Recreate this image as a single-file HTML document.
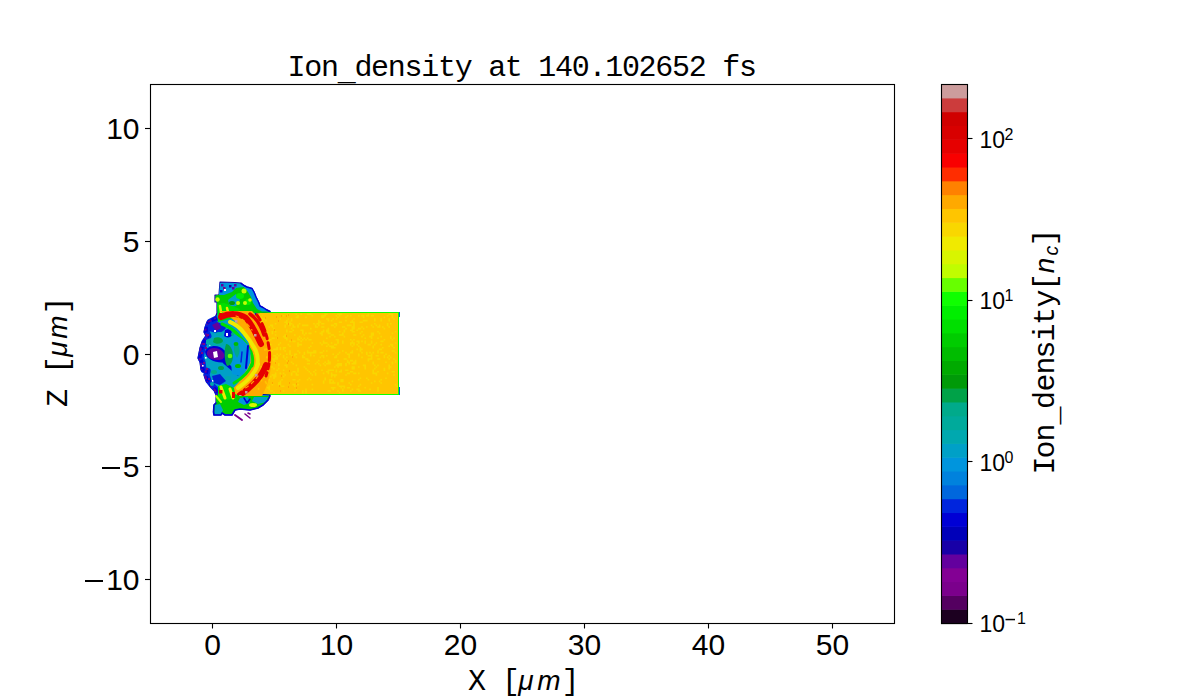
<!DOCTYPE html>
<html><head><meta charset="utf-8"><style>
html,body{margin:0;padding:0;background:#fff;width:1200px;height:700px;overflow:hidden}
svg{position:absolute;left:0;top:0}
</style></head><body>
<svg width="1200" height="700" viewBox="0 0 1200 700">
<rect x="0" y="0" width="1200" height="700" fill="#fff"/>
<g id="data">
<rect x="240" y="313" width="158" height="81" fill="#ffc500"/>
<path d="M310.0,372.6h1.6v1.6h-1.6zM311.6,374.2h1.6v1.6h-1.6zM385.2,361.4h1.6v1.6h-1.6zM274.8,374.2h1.6v1.6h-1.6zM273.2,375.8h1.6v1.6h-1.6zM314.8,369.4h1.6v1.6h-1.6zM313.2,371.0h1.6v1.6h-1.6zM372.4,369.4h1.6v1.6h-1.6zM372.4,371.0h1.6v1.6h-1.6zM308.4,377.4h1.6v1.6h-1.6zM306.8,379.0h1.6v1.6h-1.6zM263.6,380.6h1.6v1.6h-1.6zM294.0,390.2h1.6v1.6h-1.6zM270.0,343.8h1.6v1.6h-1.6zM316.4,361.4h1.6v1.6h-1.6zM314.8,363.0h1.6v1.6h-1.6zM348.4,353.4h1.6v1.6h-1.6zM378.8,358.2h1.6v1.6h-1.6zM289.2,350.2h1.6v1.6h-1.6zM289.2,351.8h1.6v1.6h-1.6zM362.8,334.2h1.6v1.6h-1.6zM361.2,335.8h1.6v1.6h-1.6zM390.0,343.8h1.6v1.6h-1.6zM388.4,345.4h1.6v1.6h-1.6zM378.8,348.6h1.6v1.6h-1.6zM377.2,350.2h1.6v1.6h-1.6zM380.4,335.8h1.6v1.6h-1.6zM266.8,340.6h1.6v1.6h-1.6zM294.0,383.8h1.6v1.6h-1.6zM372.4,371.0h1.6v1.6h-1.6zM372.4,372.6h1.6v1.6h-1.6zM391.6,371.0h1.6v1.6h-1.6zM393.2,371.0h1.6v1.6h-1.6zM274.8,361.4h1.6v1.6h-1.6zM359.6,321.4h1.6v1.6h-1.6zM361.2,321.4h1.6v1.6h-1.6zM345.2,327.8h1.6v1.6h-1.6zM343.6,329.4h1.6v1.6h-1.6zM346.8,324.6h1.6v1.6h-1.6zM348.4,324.6h1.6v1.6h-1.6zM338.8,385.4h1.6v1.6h-1.6zM340.4,387.0h1.6v1.6h-1.6zM364.4,337.4h1.6v1.6h-1.6zM324.4,313.4h1.6v1.6h-1.6zM326.0,313.4h1.6v1.6h-1.6zM302.0,355.0h1.6v1.6h-1.6zM303.6,356.6h1.6v1.6h-1.6zM292.4,383.8h1.6v1.6h-1.6zM294.0,385.4h1.6v1.6h-1.6zM326.0,350.2h1.6v1.6h-1.6zM338.8,351.8h1.6v1.6h-1.6zM337.2,353.4h1.6v1.6h-1.6zM393.2,374.2h1.6v1.6h-1.6zM282.8,375.8h1.6v1.6h-1.6zM364.4,340.6h1.6v1.6h-1.6zM364.4,342.2h1.6v1.6h-1.6zM322.8,356.6h1.6v1.6h-1.6zM367.6,343.8h1.6v1.6h-1.6zM369.2,343.8h1.6v1.6h-1.6zM346.8,372.6h1.6v1.6h-1.6zM345.2,374.2h1.6v1.6h-1.6zM386.8,372.6h1.6v1.6h-1.6zM273.2,377.4h1.6v1.6h-1.6zM356.4,348.6h1.6v1.6h-1.6zM334.0,374.2h1.6v1.6h-1.6zM361.2,315.0h1.6v1.6h-1.6zM362.8,315.0h1.6v1.6h-1.6zM337.2,339.0h1.6v1.6h-1.6zM322.8,372.6h1.6v1.6h-1.6zM297.2,350.2h1.6v1.6h-1.6zM298.8,351.8h1.6v1.6h-1.6zM383.6,339.0h1.6v1.6h-1.6zM382.0,340.6h1.6v1.6h-1.6zM282.8,315.0h1.6v1.6h-1.6zM287.6,343.8h1.6v1.6h-1.6zM289.2,345.4h1.6v1.6h-1.6zM310.0,345.4h1.6v1.6h-1.6zM308.4,347.0h1.6v1.6h-1.6zM394.8,383.8h1.6v1.6h-1.6zM396.4,385.4h1.6v1.6h-1.6zM329.2,382.2h1.6v1.6h-1.6zM351.6,329.4h1.6v1.6h-1.6zM351.6,331.0h1.6v1.6h-1.6zM377.2,358.2h1.6v1.6h-1.6zM378.8,358.2h1.6v1.6h-1.6zM268.4,366.2h1.6v1.6h-1.6zM326.0,371.0h1.6v1.6h-1.6zM327.6,372.6h1.6v1.6h-1.6zM330.8,379.0h1.6v1.6h-1.6zM332.4,380.6h1.6v1.6h-1.6zM382.0,326.2h1.6v1.6h-1.6zM383.6,327.8h1.6v1.6h-1.6zM356.4,348.6h1.6v1.6h-1.6zM321.2,355.0h1.6v1.6h-1.6zM322.8,355.0h1.6v1.6h-1.6zM345.2,327.8h1.6v1.6h-1.6zM343.6,329.4h1.6v1.6h-1.6zM388.4,364.6h1.6v1.6h-1.6zM388.4,366.2h1.6v1.6h-1.6zM268.4,388.6h1.6v1.6h-1.6zM270.0,390.2h1.6v1.6h-1.6zM372.4,347.0h1.6v1.6h-1.6zM274.8,372.6h1.6v1.6h-1.6zM286.0,337.4h1.6v1.6h-1.6zM286.0,339.0h1.6v1.6h-1.6zM350.0,371.0h1.6v1.6h-1.6zM348.4,372.6h1.6v1.6h-1.6zM286.0,329.4h1.6v1.6h-1.6zM286.0,331.0h1.6v1.6h-1.6zM265.2,366.2h1.6v1.6h-1.6zM266.8,366.2h1.6v1.6h-1.6zM386.8,324.6h1.6v1.6h-1.6zM388.4,326.2h1.6v1.6h-1.6zM372.4,361.4h1.6v1.6h-1.6zM273.2,348.6h1.6v1.6h-1.6zM274.8,348.6h1.6v1.6h-1.6zM370.8,324.6h1.6v1.6h-1.6zM372.4,326.2h1.6v1.6h-1.6zM287.6,313.4h1.6v1.6h-1.6zM286.0,315.0h1.6v1.6h-1.6zM271.6,390.2h1.6v1.6h-1.6zM273.2,391.8h1.6v1.6h-1.6zM388.4,366.2h1.6v1.6h-1.6zM390.0,366.2h1.6v1.6h-1.6zM358.0,345.4h1.6v1.6h-1.6zM262.0,318.2h1.6v1.6h-1.6zM270.0,324.6h1.6v1.6h-1.6zM268.4,326.2h1.6v1.6h-1.6zM268.4,385.4h1.6v1.6h-1.6zM266.8,387.0h1.6v1.6h-1.6zM326.0,329.4h1.6v1.6h-1.6zM327.6,331.0h1.6v1.6h-1.6zM340.4,379.0h1.6v1.6h-1.6zM342.0,380.6h1.6v1.6h-1.6zM335.6,339.0h1.6v1.6h-1.6zM337.2,340.6h1.6v1.6h-1.6zM348.4,324.6h1.6v1.6h-1.6zM350.0,324.6h1.6v1.6h-1.6zM338.8,321.4h1.6v1.6h-1.6zM340.4,321.4h1.6v1.6h-1.6zM337.2,359.8h1.6v1.6h-1.6zM372.4,351.8h1.6v1.6h-1.6zM270.0,375.8h1.6v1.6h-1.6zM271.6,350.2h1.6v1.6h-1.6zM326.0,355.0h1.6v1.6h-1.6zM346.8,359.8h1.6v1.6h-1.6zM346.8,361.4h1.6v1.6h-1.6zM370.8,340.6h1.6v1.6h-1.6zM276.4,356.6h1.6v1.6h-1.6zM276.4,358.2h1.6v1.6h-1.6zM266.8,345.4h1.6v1.6h-1.6zM268.4,347.0h1.6v1.6h-1.6zM286.0,359.8h1.6v1.6h-1.6zM369.2,351.8h1.6v1.6h-1.6zM326.0,371.0h1.6v1.6h-1.6zM327.6,371.0h1.6v1.6h-1.6zM358.0,327.8h1.6v1.6h-1.6zM356.4,329.4h1.6v1.6h-1.6zM270.0,366.2h1.6v1.6h-1.6zM271.6,366.2h1.6v1.6h-1.6zM338.8,331.0h1.6v1.6h-1.6zM330.8,324.6h1.6v1.6h-1.6zM332.4,324.6h1.6v1.6h-1.6zM359.6,383.8h1.6v1.6h-1.6zM380.4,343.8h1.6v1.6h-1.6zM268.4,371.0h1.6v1.6h-1.6zM268.4,372.6h1.6v1.6h-1.6zM282.8,369.4h1.6v1.6h-1.6zM374.0,318.2h1.6v1.6h-1.6zM374.0,319.8h1.6v1.6h-1.6zM276.4,337.4h1.6v1.6h-1.6zM393.2,337.4h1.6v1.6h-1.6zM391.6,339.0h1.6v1.6h-1.6zM313.2,350.2h1.6v1.6h-1.6zM314.8,351.8h1.6v1.6h-1.6zM375.6,355.0h1.6v1.6h-1.6zM338.8,364.6h1.6v1.6h-1.6zM337.2,366.2h1.6v1.6h-1.6zM294.0,355.0h1.6v1.6h-1.6zM380.4,382.2h1.6v1.6h-1.6zM359.6,327.8h1.6v1.6h-1.6zM292.4,329.4h1.6v1.6h-1.6zM290.8,331.0h1.6v1.6h-1.6zM367.6,358.2h1.6v1.6h-1.6zM367.6,359.8h1.6v1.6h-1.6zM289.2,340.6h1.6v1.6h-1.6zM290.8,372.6h1.6v1.6h-1.6zM290.8,374.2h1.6v1.6h-1.6zM370.8,342.2h1.6v1.6h-1.6zM345.2,374.2h1.6v1.6h-1.6zM380.4,340.6h1.6v1.6h-1.6zM324.4,315.0h1.6v1.6h-1.6zM322.8,316.6h1.6v1.6h-1.6zM302.0,331.0h1.6v1.6h-1.6zM302.0,332.6h1.6v1.6h-1.6zM327.6,361.4h1.6v1.6h-1.6zM290.8,355.0h1.6v1.6h-1.6zM359.6,383.8h1.6v1.6h-1.6zM358.0,385.4h1.6v1.6h-1.6zM380.4,379.0h1.6v1.6h-1.6zM378.8,380.6h1.6v1.6h-1.6zM276.4,353.4h1.6v1.6h-1.6zM270.0,359.8h1.6v1.6h-1.6zM310.0,379.0h1.6v1.6h-1.6zM274.8,334.2h1.6v1.6h-1.6zM310.0,332.6h1.6v1.6h-1.6zM289.2,331.0h1.6v1.6h-1.6zM268.4,339.0h1.6v1.6h-1.6zM270.0,339.0h1.6v1.6h-1.6zM326.0,331.0h1.6v1.6h-1.6zM327.6,331.0h1.6v1.6h-1.6zM286.0,321.4h1.6v1.6h-1.6zM287.6,323.0h1.6v1.6h-1.6zM268.4,348.6h1.6v1.6h-1.6zM270.0,350.2h1.6v1.6h-1.6zM262.0,315.0h1.6v1.6h-1.6zM260.4,316.6h1.6v1.6h-1.6zM338.8,363.0h1.6v1.6h-1.6zM337.2,364.6h1.6v1.6h-1.6zM342.0,326.2h1.6v1.6h-1.6zM343.6,326.2h1.6v1.6h-1.6zM318.0,319.8h1.6v1.6h-1.6zM284.4,358.2h1.6v1.6h-1.6zM313.2,323.0h1.6v1.6h-1.6zM314.8,324.6h1.6v1.6h-1.6zM337.2,390.2h1.6v1.6h-1.6zM338.8,391.8h1.6v1.6h-1.6zM282.8,390.2h1.6v1.6h-1.6zM330.8,382.2h1.6v1.6h-1.6zM332.4,382.2h1.6v1.6h-1.6zM362.8,364.6h1.6v1.6h-1.6zM364.4,366.2h1.6v1.6h-1.6zM377.2,388.6h1.6v1.6h-1.6zM377.2,390.2h1.6v1.6h-1.6zM297.2,350.2h1.6v1.6h-1.6zM394.8,359.8h1.6v1.6h-1.6zM394.8,361.4h1.6v1.6h-1.6zM329.2,379.0h1.6v1.6h-1.6zM383.6,355.0h1.6v1.6h-1.6zM383.6,356.6h1.6v1.6h-1.6zM354.8,361.4h1.6v1.6h-1.6zM354.8,363.0h1.6v1.6h-1.6zM274.8,323.0h1.6v1.6h-1.6zM374.0,367.8h1.6v1.6h-1.6zM372.4,369.4h1.6v1.6h-1.6zM334.0,323.0h1.6v1.6h-1.6zM332.4,324.6h1.6v1.6h-1.6zM271.6,326.2h1.6v1.6h-1.6zM273.2,327.8h1.6v1.6h-1.6zM311.6,383.8h1.6v1.6h-1.6zM334.0,347.0h1.6v1.6h-1.6zM353.2,367.8h1.6v1.6h-1.6zM274.8,348.6h1.6v1.6h-1.6zM276.4,348.6h1.6v1.6h-1.6zM292.4,340.6h1.6v1.6h-1.6zM294.0,340.6h1.6v1.6h-1.6zM377.2,387.0h1.6v1.6h-1.6zM377.2,388.6h1.6v1.6h-1.6zM377.2,355.0h1.6v1.6h-1.6zM342.0,388.6h1.6v1.6h-1.6zM342.0,390.2h1.6v1.6h-1.6zM342.0,332.6h1.6v1.6h-1.6zM342.0,334.2h1.6v1.6h-1.6zM377.2,331.0h1.6v1.6h-1.6zM378.8,332.6h1.6v1.6h-1.6zM337.2,342.2h1.6v1.6h-1.6zM335.6,343.8h1.6v1.6h-1.6zM345.2,351.8h1.6v1.6h-1.6zM346.8,353.4h1.6v1.6h-1.6zM391.6,363.0h1.6v1.6h-1.6zM322.8,380.6h1.6v1.6h-1.6zM322.8,382.2h1.6v1.6h-1.6zM391.6,313.4h1.6v1.6h-1.6zM391.6,315.0h1.6v1.6h-1.6zM361.2,331.0h1.6v1.6h-1.6zM359.6,332.6h1.6v1.6h-1.6zM302.0,332.6h1.6v1.6h-1.6zM305.2,316.6h1.6v1.6h-1.6zM393.2,358.2h1.6v1.6h-1.6zM394.8,359.8h1.6v1.6h-1.6zM292.4,326.2h1.6v1.6h-1.6zM294.0,326.2h1.6v1.6h-1.6zM388.4,318.2h1.6v1.6h-1.6zM388.4,319.8h1.6v1.6h-1.6zM364.4,319.8h1.6v1.6h-1.6zM366.0,319.8h1.6v1.6h-1.6zM330.8,345.4h1.6v1.6h-1.6zM332.4,347.0h1.6v1.6h-1.6zM289.2,321.4h1.6v1.6h-1.6zM383.6,316.6h1.6v1.6h-1.6zM330.8,334.2h1.6v1.6h-1.6zM302.0,356.6h1.6v1.6h-1.6zM306.8,363.0h1.6v1.6h-1.6zM308.4,363.0h1.6v1.6h-1.6zM345.2,319.8h1.6v1.6h-1.6zM294.0,353.4h1.6v1.6h-1.6zM295.6,353.4h1.6v1.6h-1.6zM370.8,356.6h1.6v1.6h-1.6zM369.2,358.2h1.6v1.6h-1.6zM322.8,315.0h1.6v1.6h-1.6zM321.2,316.6h1.6v1.6h-1.6zM351.6,331.0h1.6v1.6h-1.6zM353.2,331.0h1.6v1.6h-1.6zM313.2,350.2h1.6v1.6h-1.6zM353.2,366.2h1.6v1.6h-1.6zM351.6,367.8h1.6v1.6h-1.6zM306.8,313.4h1.6v1.6h-1.6zM314.8,350.2h1.6v1.6h-1.6zM313.2,351.8h1.6v1.6h-1.6zM370.8,332.6h1.6v1.6h-1.6zM372.4,332.6h1.6v1.6h-1.6zM295.6,372.6h1.6v1.6h-1.6zM295.6,374.2h1.6v1.6h-1.6zM391.6,315.0h1.6v1.6h-1.6zM391.6,316.6h1.6v1.6h-1.6zM351.6,363.0h1.6v1.6h-1.6zM353.2,363.0h1.6v1.6h-1.6zM343.6,358.2h1.6v1.6h-1.6zM345.2,358.2h1.6v1.6h-1.6zM271.6,337.4h1.6v1.6h-1.6zM270.0,339.0h1.6v1.6h-1.6zM362.8,315.0h1.6v1.6h-1.6zM306.8,337.4h1.6v1.6h-1.6zM305.2,339.0h1.6v1.6h-1.6zM300.4,329.4h1.6v1.6h-1.6zM302.0,329.4h1.6v1.6h-1.6zM332.4,324.6h1.6v1.6h-1.6zM334.0,326.2h1.6v1.6h-1.6zM318.0,359.8h1.6v1.6h-1.6zM322.8,363.0h1.6v1.6h-1.6zM324.4,364.6h1.6v1.6h-1.6zM266.8,347.0h1.6v1.6h-1.6zM332.4,345.4h1.6v1.6h-1.6zM330.8,347.0h1.6v1.6h-1.6zM279.6,372.6h1.6v1.6h-1.6zM282.8,315.0h1.6v1.6h-1.6zM265.2,329.4h1.6v1.6h-1.6zM263.6,331.0h1.6v1.6h-1.6zM271.6,332.6h1.6v1.6h-1.6zM329.2,332.6h1.6v1.6h-1.6zM359.6,347.0h1.6v1.6h-1.6zM332.4,380.6h1.6v1.6h-1.6zM334.0,382.2h1.6v1.6h-1.6zM385.2,377.4h1.6v1.6h-1.6zM279.6,342.2h1.6v1.6h-1.6zM278.0,343.8h1.6v1.6h-1.6zM284.4,364.6h1.6v1.6h-1.6zM286.0,366.2h1.6v1.6h-1.6zM370.8,382.2h1.6v1.6h-1.6zM343.6,331.0h1.6v1.6h-1.6zM340.4,369.4h1.6v1.6h-1.6zM340.4,371.0h1.6v1.6h-1.6zM335.6,355.0h1.6v1.6h-1.6zM334.0,356.6h1.6v1.6h-1.6zM359.6,348.6h1.6v1.6h-1.6zM359.6,350.2h1.6v1.6h-1.6zM364.4,387.0h1.6v1.6h-1.6zM340.4,363.0h1.6v1.6h-1.6zM340.4,364.6h1.6v1.6h-1.6zM265.2,359.8h1.6v1.6h-1.6zM266.8,359.8h1.6v1.6h-1.6zM326.0,337.4h1.6v1.6h-1.6zM393.2,318.2h1.6v1.6h-1.6zM271.6,358.2h1.6v1.6h-1.6zM273.2,359.8h1.6v1.6h-1.6zM337.2,313.4h1.6v1.6h-1.6zM335.6,315.0h1.6v1.6h-1.6zM282.8,347.0h1.6v1.6h-1.6zM284.4,347.0h1.6v1.6h-1.6zM353.2,321.4h1.6v1.6h-1.6zM303.6,337.4h1.6v1.6h-1.6zM292.4,379.0h1.6v1.6h-1.6zM294.0,379.0h1.6v1.6h-1.6zM284.4,335.8h1.6v1.6h-1.6zM284.4,337.4h1.6v1.6h-1.6zM306.8,369.4h1.6v1.6h-1.6zM308.4,371.0h1.6v1.6h-1.6zM370.8,332.6h1.6v1.6h-1.6zM372.4,332.6h1.6v1.6h-1.6zM270.0,324.6h1.6v1.6h-1.6zM271.6,324.6h1.6v1.6h-1.6zM302.0,339.0h1.6v1.6h-1.6zM300.4,340.6h1.6v1.6h-1.6zM343.6,335.8h1.6v1.6h-1.6zM386.8,323.0h1.6v1.6h-1.6zM332.4,353.4h1.6v1.6h-1.6zM353.2,324.6h1.6v1.6h-1.6zM351.6,326.2h1.6v1.6h-1.6zM338.8,334.2h1.6v1.6h-1.6zM340.4,334.2h1.6v1.6h-1.6zM356.4,343.8h1.6v1.6h-1.6zM276.4,347.0h1.6v1.6h-1.6zM274.8,348.6h1.6v1.6h-1.6zM276.4,369.4h1.6v1.6h-1.6zM335.6,356.6h1.6v1.6h-1.6zM274.8,374.2h1.6v1.6h-1.6zM274.8,375.8h1.6v1.6h-1.6zM332.4,318.2h1.6v1.6h-1.6zM330.8,319.8h1.6v1.6h-1.6zM351.6,321.4h1.6v1.6h-1.6zM353.2,323.0h1.6v1.6h-1.6zM295.6,388.6h1.6v1.6h-1.6zM305.2,388.6h1.6v1.6h-1.6zM370.8,355.0h1.6v1.6h-1.6zM370.8,356.6h1.6v1.6h-1.6zM388.4,355.0h1.6v1.6h-1.6zM386.8,356.6h1.6v1.6h-1.6zM358.0,372.6h1.6v1.6h-1.6zM321.2,315.0h1.6v1.6h-1.6zM322.8,315.0h1.6v1.6h-1.6zM266.8,387.0h1.6v1.6h-1.6zM268.4,387.0h1.6v1.6h-1.6zM391.6,361.4h1.6v1.6h-1.6zM391.6,363.0h1.6v1.6h-1.6zM318.0,363.0h1.6v1.6h-1.6zM319.6,364.6h1.6v1.6h-1.6zM356.4,388.6h1.6v1.6h-1.6zM358.0,390.2h1.6v1.6h-1.6zM290.8,323.0h1.6v1.6h-1.6zM289.2,324.6h1.6v1.6h-1.6zM351.6,319.8h1.6v1.6h-1.6zM350.0,321.4h1.6v1.6h-1.6zM319.6,351.8h1.6v1.6h-1.6zM391.6,350.2h1.6v1.6h-1.6zM350.0,343.8h1.6v1.6h-1.6zM358.0,366.2h1.6v1.6h-1.6zM306.8,350.2h1.6v1.6h-1.6zM319.6,342.2h1.6v1.6h-1.6zM321.2,343.8h1.6v1.6h-1.6zM334.0,343.8h1.6v1.6h-1.6zM367.6,313.4h1.6v1.6h-1.6zM367.6,315.0h1.6v1.6h-1.6zM370.8,315.0h1.6v1.6h-1.6zM372.4,315.0h1.6v1.6h-1.6zM262.0,334.2h1.6v1.6h-1.6zM356.4,348.6h1.6v1.6h-1.6zM335.6,369.4h1.6v1.6h-1.6zM335.6,371.0h1.6v1.6h-1.6zM310.0,313.4h1.6v1.6h-1.6zM311.6,315.0h1.6v1.6h-1.6zM271.6,374.2h1.6v1.6h-1.6zM273.2,374.2h1.6v1.6h-1.6zM353.2,343.8h1.6v1.6h-1.6zM351.6,345.4h1.6v1.6h-1.6zM346.8,387.0h1.6v1.6h-1.6zM348.4,387.0h1.6v1.6h-1.6zM266.8,356.6h1.6v1.6h-1.6zM266.8,358.2h1.6v1.6h-1.6zM377.2,337.4h1.6v1.6h-1.6zM345.2,364.6h1.6v1.6h-1.6zM330.8,369.4h1.6v1.6h-1.6zM332.4,369.4h1.6v1.6h-1.6zM295.6,316.6h1.6v1.6h-1.6zM297.2,316.6h1.6v1.6h-1.6zM354.8,359.8h1.6v1.6h-1.6zM353.2,361.4h1.6v1.6h-1.6zM337.2,366.2h1.6v1.6h-1.6zM321.2,331.0h1.6v1.6h-1.6zM321.2,332.6h1.6v1.6h-1.6zM374.0,323.0h1.6v1.6h-1.6zM375.6,324.6h1.6v1.6h-1.6zM351.6,359.8h1.6v1.6h-1.6zM353.2,361.4h1.6v1.6h-1.6zM353.2,342.2h1.6v1.6h-1.6zM292.4,371.0h1.6v1.6h-1.6zM294.0,371.0h1.6v1.6h-1.6zM345.2,363.0h1.6v1.6h-1.6zM354.8,372.6h1.6v1.6h-1.6zM266.8,345.4h1.6v1.6h-1.6zM268.4,345.4h1.6v1.6h-1.6zM361.2,326.2h1.6v1.6h-1.6zM362.8,327.8h1.6v1.6h-1.6zM282.8,356.6h1.6v1.6h-1.6zM337.2,316.6h1.6v1.6h-1.6zM335.6,318.2h1.6v1.6h-1.6zM300.4,343.8h1.6v1.6h-1.6zM298.8,379.0h1.6v1.6h-1.6zM297.2,380.6h1.6v1.6h-1.6zM326.0,318.2h1.6v1.6h-1.6zM327.6,318.2h1.6v1.6h-1.6zM326.0,345.4h1.6v1.6h-1.6zM375.6,342.2h1.6v1.6h-1.6zM374.0,343.8h1.6v1.6h-1.6zM313.2,355.0h1.6v1.6h-1.6zM278.0,363.0h1.6v1.6h-1.6zM278.0,364.6h1.6v1.6h-1.6zM278.0,383.8h1.6v1.6h-1.6zM279.6,383.8h1.6v1.6h-1.6zM390.0,313.4h1.6v1.6h-1.6zM274.8,356.6h1.6v1.6h-1.6zM273.2,358.2h1.6v1.6h-1.6zM356.4,340.6h1.6v1.6h-1.6zM358.0,340.6h1.6v1.6h-1.6zM297.2,337.4h1.6v1.6h-1.6zM297.2,339.0h1.6v1.6h-1.6zM290.8,327.8h1.6v1.6h-1.6zM297.2,383.8h1.6v1.6h-1.6zM342.0,379.0h1.6v1.6h-1.6zM340.4,380.6h1.6v1.6h-1.6zM271.6,331.0h1.6v1.6h-1.6zM297.2,343.8h1.6v1.6h-1.6zM297.2,345.4h1.6v1.6h-1.6zM290.8,318.2h1.6v1.6h-1.6zM290.8,319.8h1.6v1.6h-1.6zM370.8,334.2h1.6v1.6h-1.6zM372.4,334.2h1.6v1.6h-1.6zM350.0,351.8h1.6v1.6h-1.6zM351.6,351.8h1.6v1.6h-1.6zM318.0,323.0h1.6v1.6h-1.6zM318.0,324.6h1.6v1.6h-1.6zM321.2,326.2h1.6v1.6h-1.6zM322.8,326.2h1.6v1.6h-1.6zM300.4,313.4h1.6v1.6h-1.6zM290.8,361.4h1.6v1.6h-1.6zM292.4,363.0h1.6v1.6h-1.6zM372.4,363.0h1.6v1.6h-1.6zM374.0,364.6h1.6v1.6h-1.6zM358.0,315.0h1.6v1.6h-1.6zM369.2,388.6h1.6v1.6h-1.6zM351.6,371.0h1.6v1.6h-1.6zM353.2,372.6h1.6v1.6h-1.6zM351.6,327.8h1.6v1.6h-1.6zM350.0,329.4h1.6v1.6h-1.6zM302.0,390.2h1.6v1.6h-1.6zM302.0,391.8h1.6v1.6h-1.6zM322.8,329.4h1.6v1.6h-1.6zM322.8,331.0h1.6v1.6h-1.6zM287.6,318.2h1.6v1.6h-1.6zM273.2,355.0h1.6v1.6h-1.6zM297.2,324.6h1.6v1.6h-1.6zM297.2,326.2h1.6v1.6h-1.6zM286.0,353.4h1.6v1.6h-1.6zM337.2,366.2h1.6v1.6h-1.6zM318.0,321.4h1.6v1.6h-1.6zM316.4,323.0h1.6v1.6h-1.6zM327.6,327.8h1.6v1.6h-1.6zM327.6,329.4h1.6v1.6h-1.6zM327.6,359.8h1.6v1.6h-1.6zM329.2,361.4h1.6v1.6h-1.6zM391.6,345.4h1.6v1.6h-1.6zM393.2,347.0h1.6v1.6h-1.6zM330.8,342.2h1.6v1.6h-1.6zM322.8,340.6h1.6v1.6h-1.6zM322.8,342.2h1.6v1.6h-1.6zM330.8,387.0h1.6v1.6h-1.6zM319.6,356.6h1.6v1.6h-1.6zM353.2,326.2h1.6v1.6h-1.6zM353.2,327.8h1.6v1.6h-1.6zM388.4,366.2h1.6v1.6h-1.6zM390.0,366.2h1.6v1.6h-1.6zM274.8,355.0h1.6v1.6h-1.6zM276.4,356.6h1.6v1.6h-1.6zM273.2,337.4h1.6v1.6h-1.6zM340.4,334.2h1.6v1.6h-1.6zM335.6,364.6h1.6v1.6h-1.6zM334.0,366.2h1.6v1.6h-1.6zM286.0,356.6h1.6v1.6h-1.6zM340.4,385.4h1.6v1.6h-1.6zM342.0,385.4h1.6v1.6h-1.6zM322.8,350.2h1.6v1.6h-1.6zM321.2,351.8h1.6v1.6h-1.6zM351.6,350.2h1.6v1.6h-1.6zM282.8,372.6h1.6v1.6h-1.6zM284.4,374.2h1.6v1.6h-1.6zM306.8,313.4h1.6v1.6h-1.6zM308.4,313.4h1.6v1.6h-1.6zM289.2,321.4h1.6v1.6h-1.6zM287.6,323.0h1.6v1.6h-1.6zM319.6,332.6h1.6v1.6h-1.6zM321.2,334.2h1.6v1.6h-1.6zM370.8,358.2h1.6v1.6h-1.6zM305.2,358.2h1.6v1.6h-1.6zM306.8,358.2h1.6v1.6h-1.6zM366.0,351.8h1.6v1.6h-1.6zM366.0,353.4h1.6v1.6h-1.6zM324.4,342.2h1.6v1.6h-1.6zM326.0,342.2h1.6v1.6h-1.6zM297.2,374.2h1.6v1.6h-1.6zM350.0,315.0h1.6v1.6h-1.6zM338.8,313.4h1.6v1.6h-1.6zM338.8,315.0h1.6v1.6h-1.6zM358.0,340.6h1.6v1.6h-1.6zM358.0,342.2h1.6v1.6h-1.6zM366.0,377.4h1.6v1.6h-1.6zM367.6,379.0h1.6v1.6h-1.6zM350.0,342.2h1.6v1.6h-1.6zM351.6,342.2h1.6v1.6h-1.6zM274.8,358.2h1.6v1.6h-1.6zM327.6,319.8h1.6v1.6h-1.6zM327.6,361.4h1.6v1.6h-1.6zM390.0,323.0h1.6v1.6h-1.6zM329.2,379.0h1.6v1.6h-1.6zM329.2,380.6h1.6v1.6h-1.6zM327.6,332.6h1.6v1.6h-1.6zM279.6,318.2h1.6v1.6h-1.6zM266.8,364.6h1.6v1.6h-1.6zM268.4,364.6h1.6v1.6h-1.6zM298.8,335.8h1.6v1.6h-1.6zM370.8,353.4h1.6v1.6h-1.6zM369.2,355.0h1.6v1.6h-1.6zM369.2,335.8h1.6v1.6h-1.6zM370.8,337.4h1.6v1.6h-1.6zM330.8,372.6h1.6v1.6h-1.6zM332.4,374.2h1.6v1.6h-1.6zM388.4,366.2h1.6v1.6h-1.6zM388.4,367.8h1.6v1.6h-1.6zM353.2,318.2h1.6v1.6h-1.6zM324.4,377.4h1.6v1.6h-1.6zM324.4,379.0h1.6v1.6h-1.6zM298.8,323.0h1.6v1.6h-1.6zM286.0,364.6h1.6v1.6h-1.6zM286.0,366.2h1.6v1.6h-1.6zM326.0,331.0h1.6v1.6h-1.6zM327.6,363.0h1.6v1.6h-1.6zM329.2,363.0h1.6v1.6h-1.6zM310.0,353.4h1.6v1.6h-1.6zM310.0,355.0h1.6v1.6h-1.6zM297.2,342.2h1.6v1.6h-1.6zM298.8,343.8h1.6v1.6h-1.6zM271.6,383.8h1.6v1.6h-1.6zM284.4,334.2h1.6v1.6h-1.6zM282.8,335.8h1.6v1.6h-1.6zM297.2,371.0h1.6v1.6h-1.6zM295.6,372.6h1.6v1.6h-1.6zM303.6,334.2h1.6v1.6h-1.6zM335.6,374.2h1.6v1.6h-1.6zM334.0,375.8h1.6v1.6h-1.6zM383.6,367.8h1.6v1.6h-1.6zM383.6,369.4h1.6v1.6h-1.6zM390.0,343.8h1.6v1.6h-1.6zM391.6,343.8h1.6v1.6h-1.6zM278.0,367.8h1.6v1.6h-1.6zM361.2,315.0h1.6v1.6h-1.6zM362.8,316.6h1.6v1.6h-1.6zM367.6,355.0h1.6v1.6h-1.6zM306.8,351.8h1.6v1.6h-1.6zM361.2,348.6h1.6v1.6h-1.6zM359.6,350.2h1.6v1.6h-1.6zM297.2,324.6h1.6v1.6h-1.6zM330.8,387.0h1.6v1.6h-1.6zM332.4,388.6h1.6v1.6h-1.6zM282.8,348.6h1.6v1.6h-1.6zM284.4,350.2h1.6v1.6h-1.6zM359.6,377.4h1.6v1.6h-1.6zM358.0,379.0h1.6v1.6h-1.6zM337.2,363.0h1.6v1.6h-1.6zM338.8,364.6h1.6v1.6h-1.6zM391.6,332.6h1.6v1.6h-1.6zM374.0,372.6h1.6v1.6h-1.6zM375.6,374.2h1.6v1.6h-1.6zM372.4,345.4h1.6v1.6h-1.6zM394.8,342.2h1.6v1.6h-1.6zM348.4,382.2h1.6v1.6h-1.6zM350.0,383.8h1.6v1.6h-1.6zM348.4,361.4h1.6v1.6h-1.6zM348.4,363.0h1.6v1.6h-1.6zM311.6,342.2h1.6v1.6h-1.6zM377.2,351.8h1.6v1.6h-1.6zM327.6,369.4h1.6v1.6h-1.6zM326.0,371.0h1.6v1.6h-1.6zM297.2,367.8h1.6v1.6h-1.6zM297.2,369.4h1.6v1.6h-1.6zM345.2,369.4h1.6v1.6h-1.6zM346.8,369.4h1.6v1.6h-1.6zM273.2,374.2h1.6v1.6h-1.6zM273.2,375.8h1.6v1.6h-1.6zM295.6,364.6h1.6v1.6h-1.6zM286.0,323.0h1.6v1.6h-1.6zM287.6,323.0h1.6v1.6h-1.6zM340.4,369.4h1.6v1.6h-1.6zM338.8,371.0h1.6v1.6h-1.6zM318.0,319.8h1.6v1.6h-1.6zM319.6,321.4h1.6v1.6h-1.6zM308.4,339.0h1.6v1.6h-1.6zM310.0,339.0h1.6v1.6h-1.6zM359.6,350.2h1.6v1.6h-1.6zM361.2,351.8h1.6v1.6h-1.6zM337.2,382.2h1.6v1.6h-1.6zM337.2,383.8h1.6v1.6h-1.6zM306.8,337.4h1.6v1.6h-1.6zM332.4,387.0h1.6v1.6h-1.6zM334.0,387.0h1.6v1.6h-1.6zM281.2,385.4h1.6v1.6h-1.6zM282.8,385.4h1.6v1.6h-1.6zM306.8,359.8h1.6v1.6h-1.6zM308.4,359.8h1.6v1.6h-1.6zM327.6,390.2h1.6v1.6h-1.6zM329.2,390.2h1.6v1.6h-1.6zM361.2,340.6h1.6v1.6h-1.6zM289.2,350.2h1.6v1.6h-1.6zM351.6,388.6h1.6v1.6h-1.6zM350.0,390.2h1.6v1.6h-1.6zM350.0,339.0h1.6v1.6h-1.6zM351.6,340.6h1.6v1.6h-1.6zM380.4,351.8h1.6v1.6h-1.6zM382.0,351.8h1.6v1.6h-1.6zM295.6,356.6h1.6v1.6h-1.6zM305.2,390.2h1.6v1.6h-1.6zM305.2,391.8h1.6v1.6h-1.6zM393.2,350.2h1.6v1.6h-1.6zM394.8,351.8h1.6v1.6h-1.6zM302.0,324.6h1.6v1.6h-1.6zM303.6,324.6h1.6v1.6h-1.6zM361.2,356.6h1.6v1.6h-1.6zM292.4,324.6h1.6v1.6h-1.6zM292.4,326.2h1.6v1.6h-1.6zM314.8,326.2h1.6v1.6h-1.6zM316.4,326.2h1.6v1.6h-1.6zM289.2,323.0h1.6v1.6h-1.6zM290.8,323.0h1.6v1.6h-1.6zM390.0,366.2h1.6v1.6h-1.6zM388.4,367.8h1.6v1.6h-1.6zM374.0,380.6h1.6v1.6h-1.6zM314.8,331.0h1.6v1.6h-1.6zM262.0,319.8h1.6v1.6h-1.6zM260.4,321.4h1.6v1.6h-1.6zM295.6,313.4h1.6v1.6h-1.6zM297.2,315.0h1.6v1.6h-1.6zM335.6,323.0h1.6v1.6h-1.6zM335.6,324.6h1.6v1.6h-1.6zM340.4,313.4h1.6v1.6h-1.6zM351.6,380.6h1.6v1.6h-1.6zM390.0,335.8h1.6v1.6h-1.6zM390.0,337.4h1.6v1.6h-1.6zM262.0,348.6h1.6v1.6h-1.6zM262.0,350.2h1.6v1.6h-1.6zM346.8,353.4h1.6v1.6h-1.6zM348.4,355.0h1.6v1.6h-1.6zM378.8,324.6h1.6v1.6h-1.6zM378.8,326.2h1.6v1.6h-1.6zM321.2,323.0h1.6v1.6h-1.6zM322.8,323.0h1.6v1.6h-1.6zM382.0,347.0h1.6v1.6h-1.6zM380.4,348.6h1.6v1.6h-1.6zM377.2,364.6h1.6v1.6h-1.6zM375.6,366.2h1.6v1.6h-1.6zM303.6,366.2h1.6v1.6h-1.6zM305.2,367.8h1.6v1.6h-1.6zM274.8,331.0h1.6v1.6h-1.6zM364.4,366.2h1.6v1.6h-1.6zM364.4,367.8h1.6v1.6h-1.6zM351.6,366.2h1.6v1.6h-1.6zM351.6,367.8h1.6v1.6h-1.6zM306.8,350.2h1.6v1.6h-1.6zM308.4,351.8h1.6v1.6h-1.6zM286.0,319.8h1.6v1.6h-1.6zM284.4,321.4h1.6v1.6h-1.6zM311.6,388.6h1.6v1.6h-1.6zM346.8,315.0h1.6v1.6h-1.6zM345.2,316.6h1.6v1.6h-1.6zM388.4,313.4h1.6v1.6h-1.6zM386.8,315.0h1.6v1.6h-1.6zM263.6,318.2h1.6v1.6h-1.6zM265.2,319.8h1.6v1.6h-1.6zM324.4,361.4h1.6v1.6h-1.6zM326.0,363.0h1.6v1.6h-1.6zM287.6,343.8h1.6v1.6h-1.6zM279.6,353.4h1.6v1.6h-1.6zM270.0,324.6h1.6v1.6h-1.6zM300.4,337.4h1.6v1.6h-1.6zM298.8,339.0h1.6v1.6h-1.6zM369.2,388.6h1.6v1.6h-1.6zM366.0,326.2h1.6v1.6h-1.6zM278.0,382.2h1.6v1.6h-1.6zM279.6,382.2h1.6v1.6h-1.6zM362.8,319.8h1.6v1.6h-1.6zM361.2,321.4h1.6v1.6h-1.6zM278.0,355.0h1.6v1.6h-1.6zM329.2,369.4h1.6v1.6h-1.6zM350.0,359.8h1.6v1.6h-1.6zM351.6,359.8h1.6v1.6h-1.6zM327.6,343.8h1.6v1.6h-1.6zM329.2,345.4h1.6v1.6h-1.6zM358.0,388.6h1.6v1.6h-1.6zM359.6,390.2h1.6v1.6h-1.6zM281.2,379.0h1.6v1.6h-1.6zM279.6,380.6h1.6v1.6h-1.6zM346.8,361.4h1.6v1.6h-1.6zM330.8,374.2h1.6v1.6h-1.6zM330.8,375.8h1.6v1.6h-1.6zM380.4,318.2h1.6v1.6h-1.6zM310.0,351.8h1.6v1.6h-1.6zM311.6,351.8h1.6v1.6h-1.6zM394.8,331.0h1.6v1.6h-1.6zM353.2,339.0h1.6v1.6h-1.6zM351.6,340.6h1.6v1.6h-1.6zM377.2,371.0h1.6v1.6h-1.6zM375.6,372.6h1.6v1.6h-1.6zM270.0,350.2h1.6v1.6h-1.6zM342.0,350.2h1.6v1.6h-1.6zM342.0,340.6h1.6v1.6h-1.6zM342.0,342.2h1.6v1.6h-1.6zM308.4,332.6h1.6v1.6h-1.6zM266.8,379.0h1.6v1.6h-1.6zM268.4,379.0h1.6v1.6h-1.6zM385.2,353.4h1.6v1.6h-1.6zM383.6,355.0h1.6v1.6h-1.6zM364.4,364.6h1.6v1.6h-1.6zM364.4,366.2h1.6v1.6h-1.6zM358.0,353.4h1.6v1.6h-1.6zM358.0,355.0h1.6v1.6h-1.6zM265.2,332.6h1.6v1.6h-1.6zM266.8,332.6h1.6v1.6h-1.6zM289.2,353.4h1.6v1.6h-1.6zM284.4,324.6h1.6v1.6h-1.6zM284.4,326.2h1.6v1.6h-1.6zM321.2,369.4h1.6v1.6h-1.6zM348.4,356.6h1.6v1.6h-1.6zM294.0,334.2h1.6v1.6h-1.6zM390.0,356.6h1.6v1.6h-1.6zM388.4,358.2h1.6v1.6h-1.6zM366.0,315.0h1.6v1.6h-1.6zM367.6,315.0h1.6v1.6h-1.6zM382.0,347.0h1.6v1.6h-1.6zM380.4,348.6h1.6v1.6h-1.6zM305.2,324.6h1.6v1.6h-1.6zM306.8,324.6h1.6v1.6h-1.6zM303.6,351.8h1.6v1.6h-1.6zM303.6,353.4h1.6v1.6h-1.6zM329.2,335.8h1.6v1.6h-1.6zM279.6,347.0h1.6v1.6h-1.6zM279.6,348.6h1.6v1.6h-1.6zM372.4,334.2h1.6v1.6h-1.6zM370.8,335.8h1.6v1.6h-1.6zM262.0,364.6h1.6v1.6h-1.6zM310.0,327.8h1.6v1.6h-1.6zM380.4,319.8h1.6v1.6h-1.6zM332.4,334.2h1.6v1.6h-1.6zM334.0,335.8h1.6v1.6h-1.6zM305.2,332.6h1.6v1.6h-1.6zM375.6,324.6h1.6v1.6h-1.6zM377.2,326.2h1.6v1.6h-1.6zM273.2,367.8h1.6v1.6h-1.6zM314.8,372.6h1.6v1.6h-1.6zM314.8,374.2h1.6v1.6h-1.6zM353.2,334.2h1.6v1.6h-1.6zM354.8,334.2h1.6v1.6h-1.6zM282.8,355.0h1.6v1.6h-1.6zM343.6,385.4h1.6v1.6h-1.6zM343.6,387.0h1.6v1.6h-1.6z" fill="#f9d700"/>
<rect x="274" y="329" width="1" height="2" fill="#ffa900"/>
<rect x="296" y="387" width="1" height="2" fill="#ffa900"/>
<rect x="265" y="317" width="1" height="2" fill="#ffa900"/>
<rect x="269" y="354" width="1" height="2" fill="#ffa900"/>
<rect x="280" y="390" width="1" height="2" fill="#ffa900"/>
<rect x="268" y="342" width="1" height="2" fill="#ffa900"/>
<rect x="278" y="320" width="1" height="2" fill="#ffa900"/>
<rect x="265" y="354" width="1" height="2" fill="#ffa900"/>
<rect x="296" y="383" width="1" height="2" fill="#ffa900"/>
<rect x="262" y="366" width="1" height="2" fill="#ffa900"/>
<rect x="279" y="385" width="1" height="2" fill="#ffa900"/>
<rect x="276" y="316" width="1" height="2" fill="#ffa900"/>
<rect x="289" y="370" width="1" height="2" fill="#ffa900"/>
<rect x="286" y="335" width="1" height="2" fill="#ffa900"/>
<rect x="288" y="314" width="1" height="2" fill="#ffa900"/>
<rect x="265" y="335" width="1" height="2" fill="#ffa900"/>
<rect x="281" y="375" width="1" height="2" fill="#ffa900"/>
<rect x="275" y="362" width="1" height="2" fill="#ffa900"/>
<rect x="291" y="339" width="1" height="2" fill="#ffa900"/>
<rect x="287" y="362" width="1" height="2" fill="#ffa900"/>
<rect x="288" y="360" width="1" height="2" fill="#ffa900"/>
<rect x="281" y="315" width="1" height="2" fill="#ffa900"/>
<rect x="292" y="356" width="1" height="2" fill="#ffa900"/>
<rect x="288" y="386" width="1" height="2" fill="#ffa900"/>
<rect x="289" y="382" width="1" height="2" fill="#ffa900"/>
<rect x="286" y="315" width="1" height="2" fill="#ffa900"/>
<rect x="288" y="323" width="1" height="2" fill="#ffa900"/>
<rect x="277" y="337" width="1" height="2" fill="#ffa900"/>
<rect x="272" y="382" width="1" height="2" fill="#ffa900"/>
<rect x="265" y="336" width="1" height="2" fill="#ffa900"/>
<rect x="262" y="312" width="137" height="1" fill="#0fff00"/>
<rect x="262" y="394" width="137" height="1" fill="#0fff00"/>
<rect x="398" y="312" width="1" height="83" fill="#0fff00"/>
<rect x="399" y="312" width="1" height="5" fill="#0067dd"/>
<rect x="399" y="387" width="1" height="8" fill="#0067dd"/>
<polygon points="220,282 235,282.5 241,283 244,285.5 247,287 252,288.5 254,292 256,297 258.5,302 260,306 263,307.5 266,309.5 270,311.5 256,313 250,330 250,380 256,394 270,395 268,400 263,405 258,408 250,410 240,409 235,410 232,415 225,415 222,413 221,415 214,415 213.5,412 214,405 216,403 216,395 214,390 210,386 206,381 204,375 205,371 201,370 200,362 198,358 200,348 202,342 206,336 204,332 205,327.5 207,322 215,318 217,313 217,302 215,302 215,295 219,295" fill="#00a0c7" stroke="#1800a7" stroke-width="1.2" stroke-linejoin="round"/>
<polyline points="215,318 207,322 205,327.5 204,332 206,336 202,342 200,348 198,358 200,362 201,370 205,371 204,375 206,381 210,386 214,390 216,395" transform="translate(2.6,0)" fill="none" stroke="#0025dd" stroke-width="6" stroke-linejoin="round"/>
<polyline points="215,318 207,322 205,327.5 204,332 206,336 202,342 200,348 198,358 200,362 201,370 205,371 204,375 206,381 210,386 214,390 216,395" transform="translate(1.8,0)" fill="none" stroke="#0000d5" stroke-width="3.5" stroke-linejoin="round" stroke-dasharray="6 2 3 3"/>
<polyline points="215,318 207,322 205,327.5 204,332 206,336 202,342 200,348 198,358 200,362 201,370 205,371 204,375 206,381 210,386 214,390 216,395" transform="translate(0.9,0)" fill="none" stroke="#63009e" stroke-width="1.8" stroke-linejoin="round" stroke-dasharray="2 3 4 2 1 4"/>
<rect x="203" y="343" width="2" height="2" fill="#7b008c"/>
<rect x="201" y="352" width="2" height="2" fill="#7b008c"/>
<rect x="203" y="362" width="2" height="2" fill="#7b008c"/>
<rect x="208" y="378" width="2" height="2" fill="#7b008c"/>
<rect x="211" y="323" width="2" height="2" fill="#7b008c"/>
<rect x="207" y="334" width="2" height="2" fill="#7b008c"/>
<rect x="205" y="347" width="2" height="2" fill="#7b008c"/>
<rect x="206" y="368" width="2" height="2" fill="#7b008c"/>
<rect x="202" y="365" width="1.6" height="1.6" fill="#fff"/>
<rect x="209" y="344" width="1.6" height="1.6" fill="#fff"/>
<rect x="205" y="357" width="1.6" height="1.6" fill="#fff"/>
<rect x="212" y="380" width="1.6" height="1.6" fill="#fff"/>
<path d="M208,324 C214,320 222,322 226,328 C222,334 214,334 208,330 Z" fill="#0025dd" />
<path d="M212,325 L218,322 L221,328 L216,331 Z" fill="#63009e" />
<path d="M225,330 C228,328 233,330 232,335 C231,338 226,338 224,336 Z" fill="#0000d5" />
<rect x="226" y="333" width="2" height="3" fill="#fff"/>
<rect x="214" y="330" width="2" height="2" fill="#fff"/>
<path d="M206,340 C212,336 222,338 226,344 C222,348 212,346 206,344 Z" fill="#00a8af" />
<path d="M214,338 C218,336 223,338 223,341 C222,344 216,345 213,342 Z" fill="#00a248" />
<path d="M205,352 C207,345 219,344 224,350 C230,354 232,360 226,362 C218,364 206,360 205,352 Z" fill="#0000d5" />
<path d="M207,352 C209,347 218,347 222,351 C226,355 225,360 218,360 C211,360 206,357 207,352 Z" fill="#63009e" />
<path d="M213,352 L217,351 L218,357 L214,358 Z" fill="#ffffff" />
<path d="M224,362 L238,374" fill="none" stroke="#0000d5" stroke-width="3" stroke-linecap="round" stroke-linejoin="round" />
<ellipse cx="219" cy="334" rx="3" ry="2" fill="#00a8af"/>
<ellipse cx="221" cy="368" rx="3" ry="2" fill="#00a248"/>
<ellipse cx="228" cy="378" rx="3" ry="2" fill="#00a8af"/>
<ellipse cx="212" cy="384" rx="2" ry="2" fill="#00a8af"/>
<ellipse cx="233" cy="334" rx="2" ry="2" fill="#00aa8b"/>
<ellipse cx="214" cy="372" rx="3" ry="2" fill="#00aa8b"/>
<ellipse cx="226" cy="388" rx="3" ry="2" fill="#00a248"/>
<path d="M212,376 L220,374 L226,381 L220,385 L214,383 Z" fill="#0000d5" opacity="0.8"/>
<polygon points="215,296 225,292 236,288 244,287 250,291 253,297 255,303 258,308 264,310.5 270,312 262,313 240,313 228,312 218,312 217,302" fill="#00cc00" />
<polygon points="243,286 247,287.5 252,289 254,292 256,297 258.5,302 260,306 263,307.5 266,309.5 270,311.5 262,311.5 257,309 253,303 251,297 248,292" fill="#0095dd" />
<path d="M241,283.5 L244,285.5 L247,287 L252,288.5 L254,292 L256,297 L258.5,302 L260,306 L263,307.5 L266,309.5 L270,311.5" fill="none" stroke="#0000d5" stroke-width="1.4" stroke-linecap="round" stroke-linejoin="round" />
<polygon points="220,283 234,283 238,286 232,292 224,295 219,295" fill="#0095dd" />
<rect x="221" y="284" width="2.5" height="2.5" fill="#63009e"/>
<rect x="229" y="285" width="2.5" height="2.5" fill="#1800a7"/>
<rect x="232" y="287" width="2.5" height="2.5" fill="#63009e"/>
<rect x="220" y="290" width="2.5" height="2.5" fill="#0000d5"/>
<rect x="234" y="284" width="2.5" height="2.5" fill="#63009e"/>
<rect x="223" y="287" width="2.5" height="2.5" fill="#7b008c"/>
<rect x="224" y="289" width="2" height="2" fill="#fff"/>
<polygon points="228,300 236,294 240,300 236,306 230,307" fill="#00a0c7" />
<ellipse cx="240" cy="296" rx="4" ry="3" fill="#00ef00"/>
<ellipse cx="248" cy="302" rx="3" ry="3" fill="#00ef00"/>
<ellipse cx="232" cy="303" rx="3" ry="2" fill="#009a08"/>
<circle cx="244" cy="291" r="2.5" fill="#c0fd00"/>
<circle cx="238" cy="303" r="2" fill="#c0fd00"/>
<circle cx="245" cy="303" r="2" fill="#c0fd00"/>
<circle cx="217.5" cy="299.5" r="2.2" fill="#c0fd00"/>
<circle cx="250" cy="300" r="1.8" fill="#c0fd00"/>
<polygon points="217,304 224,303 232,306 240,309 234,318 218,322" fill="#00df00" />
<path d="M220,306 L222,318" fill="none" stroke="#d8f500" stroke-width="2.5" stroke-linecap="round" stroke-linejoin="round" />
<path d="M227,308 L229,316" fill="none" stroke="#f0ea00" stroke-width="2.5" stroke-linecap="round" stroke-linejoin="round" />
<rect x="219" y="313" width="3" height="3" fill="#e60000"/>
<rect x="227" y="311" width="3" height="3" fill="#e60000"/>
<path d="M220,311 L252,311 C262,322 270,340 271.5,356 C271.5,372 268,385 262,396 L222,397 C240,385 250,370 250,352 C250,335 238,320 220,311 Z" fill="#ffa900" />
<rect x="254.8" y="375.8" width="1.5" height="2" fill="#ffc500"/>
<rect x="256.2" y="319.2" width="1.5" height="2" fill="#ffc500"/>
<rect x="260.7" y="379.3" width="1.5" height="2" fill="#ffc500"/>
<rect x="265.5" y="382.3" width="1.5" height="2" fill="#ffc500"/>
<rect x="267.7" y="317.2" width="1.5" height="2" fill="#ffc500"/>
<rect x="258.1" y="321.4" width="1.5" height="2" fill="#ffc500"/>
<rect x="264.1" y="348.7" width="1.5" height="2" fill="#ffc500"/>
<rect x="263.9" y="375.9" width="1.5" height="2" fill="#ffc500"/>
<rect x="268.0" y="366.5" width="1.5" height="2" fill="#ffc500"/>
<rect x="266.0" y="356.3" width="1.5" height="2" fill="#ffc500"/>
<rect x="253.3" y="383.4" width="1.5" height="2" fill="#ffc500"/>
<rect x="253.5" y="319.8" width="1.5" height="2" fill="#ffc500"/>
<rect x="265.3" y="335.2" width="1.5" height="2" fill="#ffc500"/>
<rect x="262.6" y="315.3" width="1.5" height="2" fill="#ffc500"/>
<rect x="255.4" y="369.5" width="1.5" height="2" fill="#ffc500"/>
<rect x="252.6" y="353.3" width="1.5" height="2" fill="#ffc500"/>
<rect x="267.0" y="329.9" width="1.5" height="2" fill="#ffc500"/>
<rect x="263.3" y="371.8" width="1.5" height="2" fill="#ffc500"/>
<rect x="261.9" y="373.5" width="1.5" height="2" fill="#ffc500"/>
<rect x="263.2" y="314.1" width="1.5" height="2" fill="#ffc500"/>
<rect x="255.1" y="355.4" width="1.5" height="2" fill="#ffc500"/>
<rect x="267.5" y="330.1" width="1.5" height="2" fill="#ffc500"/>
<rect x="261.4" y="323.1" width="1.5" height="2" fill="#ffc500"/>
<rect x="265.5" y="348.2" width="1.5" height="2" fill="#ffc500"/>
<rect x="260.4" y="365.9" width="1.5" height="2" fill="#ffc500"/>
<rect x="254.2" y="370.6" width="1.5" height="2" fill="#ffc500"/>
<rect x="264.8" y="380.9" width="1.5" height="2" fill="#ffc500"/>
<rect x="256.5" y="331.5" width="1.5" height="2" fill="#ffc500"/>
<rect x="254.6" y="384.1" width="1.5" height="2" fill="#ffc500"/>
<rect x="259.0" y="343.8" width="1.5" height="2" fill="#ffc500"/>
<rect x="260.3" y="368.2" width="1.5" height="2" fill="#ffc500"/>
<rect x="257.1" y="339.6" width="1.5" height="2" fill="#ffc500"/>
<rect x="264.3" y="374.4" width="1.5" height="2" fill="#ffc500"/>
<rect x="256.7" y="318.8" width="1.5" height="2" fill="#ffc500"/>
<rect x="266.8" y="370.6" width="1.5" height="2" fill="#ffc500"/>
<rect x="261.5" y="345.0" width="1.5" height="2" fill="#ffc500"/>
<rect x="267.3" y="347.0" width="1.5" height="2" fill="#ffc500"/>
<rect x="255.5" y="320.9" width="1.5" height="2" fill="#ffc500"/>
<rect x="257.6" y="360.5" width="1.5" height="2" fill="#ffc500"/>
<rect x="257.8" y="387.8" width="1.5" height="2" fill="#ffc500"/>
<path d="M257,315 C264,325 268,338 269.5,352 C270,362 268,370 266,376" fill="none" stroke="#e60000" stroke-width="3" stroke-linecap="round" stroke-linejoin="round" stroke-dasharray="6 4 8 3 5 4" stroke-linecap="butt"/>
<path d="M221,317 C229,313 239,313 246,318 C252,324 256,334 261,344" fill="none" stroke="#e60000" stroke-width="6" stroke-linecap="round" stroke-linejoin="round" />
<path d="M236,316 C242,318 248,324 252,330" fill="none" stroke="#ffa900" stroke-width="1.2" stroke-linecap="round" stroke-linejoin="round" stroke-dasharray="3 4"/>
<path d="M250,314 C256,318 261,326 264,335" fill="none" stroke="#e60000" stroke-width="3.5" stroke-linecap="round" stroke-linejoin="round" />
<path d="M230,322 C236,324 240,328 244,333 C249,339 253,345 256,351 C258,356 258,362 257,366" fill="none" stroke="#f0ea00" stroke-width="4" stroke-linecap="round" stroke-linejoin="round" />
<path d="M222,324 C230,327 235,331 239,336 C244,341 248,346 251,352 C253,357 253,362 252,366" fill="none" stroke="#00df00" stroke-width="3" stroke-linecap="round" stroke-linejoin="round" />
<path d="M266,365 C262,376 253,386 240,395" fill="none" stroke="#e60000" stroke-width="6" stroke-linecap="round" stroke-linejoin="round" />
<path d="M258,376 C254,382 248,387 242,390" fill="none" stroke="#ffa900" stroke-width="1.2" stroke-linecap="round" stroke-linejoin="round" stroke-dasharray="3 4"/>
<path d="M258,364 C255,373 248,381 238,388" fill="none" stroke="#f0ea00" stroke-width="4" stroke-linecap="round" stroke-linejoin="round" />
<path d="M252,364 C249,372 243,378 234,383" fill="none" stroke="#00df00" stroke-width="3" stroke-linecap="round" stroke-linejoin="round" />
<polygon points="234,334 242,339 248,345 250.5,352 250.5,362 247,370 240,376 232,374 230,350" fill="#0095dd" />
<path d="M248,346 L246,368" fill="none" stroke="#0000d5" stroke-width="2" stroke-linecap="round" stroke-linejoin="round" />
<path d="M242,352 L241,362" fill="none" stroke="#0025dd" stroke-width="1.5" stroke-linecap="round" stroke-linejoin="round" />
<path d="M236,342 C240,346 241,352 237,358 C233,352 233,346 236,342 Z" fill="#00aa8b" />
<path d="M226,344 C230,344 233,350 233,356 C233,362 230,366 227,366 C224,360 224,350 226,344 Z" fill="#00a248" />
<ellipse cx="238" cy="366" rx="3" ry="2" fill="#00bc00"/>
<ellipse cx="236" cy="344" rx="2.5" ry="2" fill="#00bc00"/>
<circle cx="230" cy="356" r="2.3" fill="#67ff00"/>
<rect x="235" y="320" width="2.5" height="2.5" fill="#cc9c9c"/>
<rect x="254" y="334" width="2.5" height="2.5" fill="#cc9c9c"/>
<rect x="255" y="374" width="2.5" height="2.5" fill="#cc9c9c"/>
<rect x="245" y="391" width="2.5" height="2.5" fill="#cc9c9c"/>
<rect x="239" y="395" width="2.5" height="2.5" fill="#cc9c9c"/>
<polygon points="216,396 222,392 232,393 240,396 262,396 270,396 268,400 263,405 258,408 250,410 240,409 235,410 232,414 225,414 222,412 221,414 215,414 214,405 216,403" fill="#00cc00" />
<polygon points="215,405 220,404 223,410 221,414 215,414" fill="#00a0c7" />
<polygon points="254,397 268,397 266,402 258,404 252,401" fill="#00a0c7" />
<polygon points="240,398 248,397 250,403 244,405 238,402" fill="#0095dd" />
<path d="M244,398 L247,403 L250,399" fill="none" stroke="#0000d5" stroke-width="1.5" stroke-linecap="round" stroke-linejoin="round" />
<ellipse cx="253" cy="405" rx="4" ry="2" fill="#d8f500"/>
<polygon points="218,386 226,384 234,388 236,398 226,400 218,398" fill="#00df00" />
<path d="M221,387 L225,398" fill="none" stroke="#f0ea00" stroke-width="3" stroke-linecap="round" stroke-linejoin="round" />
<path d="M230,389 L233,398" fill="none" stroke="#f0ea00" stroke-width="3" stroke-linecap="round" stroke-linejoin="round" />
<rect x="219" y="390" width="3.5" height="3.5" fill="#e60000"/>
<rect x="232" y="392" width="3" height="6" fill="#e60000"/>
<path d="M216,396 L221,402" fill="none" stroke="#c0fd00" stroke-width="2" stroke-linecap="round" stroke-linejoin="round" />
<path d="M270,396 L268,400 L263,405 L258,408 L250,410 L240,409 L235,410 L232,415 L225,415 L222,413 L221,415 L214,415 L213.5,412 L214,405 L216,403" fill="none" stroke="#0000d5" stroke-width="1.6" stroke-linecap="round" stroke-linejoin="round" />
<path d="M235,415 L242,420" fill="none" stroke="#7b008c" stroke-width="2" stroke-linecap="round" stroke-linejoin="round" />
<path d="M245,414 L250,418 M248,413 L250,414" fill="none" stroke="#7b008c" stroke-width="1.6" stroke-linecap="round" stroke-linejoin="round" />
</g>
<g id="cbar">
<rect x="941" y="609.18" width="26.5" height="14.92" fill="#1c0020"/>
<rect x="941" y="595.36" width="26.5" height="14.42" fill="#540060"/>
<rect x="941" y="581.54" width="26.5" height="14.42" fill="#7b008c"/>
<rect x="941" y="567.72" width="26.5" height="14.42" fill="#830094"/>
<rect x="941" y="553.90" width="26.5" height="14.42" fill="#63009e"/>
<rect x="941" y="540.08" width="26.5" height="14.42" fill="#1800a7"/>
<rect x="941" y="526.26" width="26.5" height="14.42" fill="#0000b9"/>
<rect x="941" y="512.44" width="26.5" height="14.42" fill="#0000d5"/>
<rect x="941" y="498.62" width="26.5" height="14.42" fill="#0025dd"/>
<rect x="941" y="484.79" width="26.5" height="14.42" fill="#0067dd"/>
<rect x="941" y="470.97" width="26.5" height="14.42" fill="#0082dd"/>
<rect x="941" y="457.15" width="26.5" height="14.42" fill="#0095dd"/>
<rect x="941" y="443.33" width="26.5" height="14.42" fill="#00a0c7"/>
<rect x="941" y="429.51" width="26.5" height="14.42" fill="#00a8af"/>
<rect x="941" y="415.69" width="26.5" height="14.42" fill="#00aa9b"/>
<rect x="941" y="401.87" width="26.5" height="14.42" fill="#00aa8b"/>
<rect x="941" y="388.05" width="26.5" height="14.42" fill="#00a248"/>
<rect x="941" y="374.23" width="26.5" height="14.42" fill="#009a08"/>
<rect x="941" y="360.41" width="26.5" height="14.42" fill="#00aa00"/>
<rect x="941" y="346.59" width="26.5" height="14.42" fill="#00bc00"/>
<rect x="941" y="332.77" width="26.5" height="14.42" fill="#00cc00"/>
<rect x="941" y="318.95" width="26.5" height="14.42" fill="#00df00"/>
<rect x="941" y="305.13" width="26.5" height="14.42" fill="#00ef00"/>
<rect x="941" y="291.31" width="26.5" height="14.42" fill="#0fff00"/>
<rect x="941" y="277.49" width="26.5" height="14.42" fill="#67ff00"/>
<rect x="941" y="263.67" width="26.5" height="14.42" fill="#c0fd00"/>
<rect x="941" y="249.85" width="26.5" height="14.42" fill="#d8f500"/>
<rect x="941" y="236.03" width="26.5" height="14.42" fill="#f0ea00"/>
<rect x="941" y="222.21" width="26.5" height="14.42" fill="#f9d700"/>
<rect x="941" y="208.38" width="26.5" height="14.42" fill="#ffc500"/>
<rect x="941" y="194.56" width="26.5" height="14.42" fill="#ffa900"/>
<rect x="941" y="180.74" width="26.5" height="14.42" fill="#ff8100"/>
<rect x="941" y="166.92" width="26.5" height="14.42" fill="#ff2d00"/>
<rect x="941" y="153.10" width="26.5" height="14.42" fill="#f90000"/>
<rect x="941" y="139.28" width="26.5" height="14.42" fill="#e60000"/>
<rect x="941" y="125.46" width="26.5" height="14.42" fill="#d80000"/>
<rect x="941" y="111.64" width="26.5" height="14.42" fill="#d00000"/>
<rect x="941" y="97.82" width="26.5" height="14.42" fill="#cc3c3c"/>
<rect x="941" y="84.00" width="26.5" height="14.42" fill="#cc9c9c"/>
</g>
<rect x="150.5" y="84.5" width="744" height="539" fill="none" stroke="#000" stroke-width="1.11"/>
<rect x="941.5" y="84.5" width="26" height="539" fill="none" stroke="#000" stroke-width="1.11"/>
<g stroke="#000" stroke-width="1.11">
<line x1="145" y1="128.5" x2="150.5" y2="128.5"/>
<line x1="145" y1="241.5" x2="150.5" y2="241.5"/>
<line x1="145" y1="354.5" x2="150.5" y2="354.5"/>
<line x1="145" y1="466.5" x2="150.5" y2="466.5"/>
<line x1="145" y1="579.5" x2="150.5" y2="579.5"/>
<line x1="212.5" y1="623.5" x2="212.5" y2="628.5"/>
<line x1="336.5" y1="623.5" x2="336.5" y2="628.5"/>
<line x1="460.5" y1="623.5" x2="460.5" y2="628.5"/>
<line x1="584.5" y1="623.5" x2="584.5" y2="628.5"/>
<line x1="708.5" y1="623.5" x2="708.5" y2="628.5"/>
<line x1="832.5" y1="623.5" x2="832.5" y2="628.5"/>
<line x1="967.5" y1="138.5" x2="972.5" y2="138.5"/>
<line x1="967.5" y1="300.5" x2="972.5" y2="300.5"/>
<line x1="967.5" y1="461.5" x2="972.5" y2="461.5"/>
<line x1="967.5" y1="623.5" x2="972.5" y2="623.5"/>
</g>
<g font-family='"Liberation Sans", sans-serif' font-size="30" fill="#000">
<text x="139.5" y="139" text-anchor="end">10</text>
<text x="139.5" y="252" text-anchor="end">5</text>
<text x="139.5" y="365" text-anchor="end">0</text>
<text x="139.5" y="477" text-anchor="end">5</text>
<text x="139.5" y="590" text-anchor="end">10</text>
<rect x="102" y="467" width="18" height="2" fill="#000"/><rect x="85" y="580" width="18" height="2" fill="#000"/>
<text x="212.5" y="655" text-anchor="middle">0</text>
<text x="336.5" y="655" text-anchor="middle">10</text>
<text x="460.5" y="655" text-anchor="middle">20</text>
<text x="584.5" y="655" text-anchor="middle">30</text>
<text x="708.5" y="655" text-anchor="middle">40</text>
<text x="832.5" y="655" text-anchor="middle">50</text>
</g>
<g font-family='"Liberation Sans", sans-serif' fill="#000">
<text x="979.5" y="148" font-size="23">10</text>
<text x="1004.5" y="140" font-size="16">2</text>
<text x="979.5" y="309" font-size="23">10</text>
<text x="1004.5" y="301" font-size="16">1</text>
<text x="979.5" y="471" font-size="23">10</text>
<text x="1004.5" y="462.5" font-size="16">0</text>
<text x="979.5" y="632" font-size="23">10</text>
<rect x="1005.5" y="618.8" width="9.5" height="1.5" fill="#000"/><text x="1017" y="624" font-size="16">1</text>
</g>
<text x="287.50 304.22 320.94 337.66 354.38 371.10 387.82 404.54 421.26 437.98 454.70 471.42 488.14 504.86 521.58 538.30 555.02 571.74 588.46 605.18 621.90 638.62 655.34 672.06 688.78 705.50 722.22 738.94" y="76" font-family='"Liberation Mono", monospace' font-size="30" xml:space="preserve">Ion<tspan dy="4">_</tspan><tspan dy="-4">density at 140.102652 fs</tspan></text>
<text x="477" y="690" text-anchor="middle" font-family='"Liberation Mono", monospace' font-size="30" font-style="normal">X</text>
<text x="511" y="690" text-anchor="middle" font-family='"Liberation Mono", monospace' font-size="30" font-style="normal">[</text>
<text x="526" y="690" text-anchor="middle" font-family='"Liberation Sans", sans-serif' font-size="28" font-style="italic">μ</text>
<text x="549" y="690" text-anchor="middle" font-family='"Liberation Sans", sans-serif' font-size="28" font-style="italic">m</text>
<text x="570.5" y="690" text-anchor="middle" font-family='"Liberation Mono", monospace' font-size="30" font-style="normal">]</text>
<text transform="translate(67,398) rotate(-90)" x="0" y="0" text-anchor="middle" font-family='"Liberation Mono", monospace' font-size="30" font-style="normal">Z</text>
<text transform="translate(67,365) rotate(-90)" x="0" y="0" text-anchor="middle" font-family='"Liberation Mono", monospace' font-size="30" font-style="normal">[</text>
<text transform="translate(67,349) rotate(-90)" x="0" y="0" text-anchor="middle" font-family='"Liberation Sans", sans-serif' font-size="28" font-style="italic">μ</text>
<text transform="translate(67,327) rotate(-90)" x="0" y="0" text-anchor="middle" font-family='"Liberation Sans", sans-serif' font-size="28" font-style="italic">m</text>
<text transform="translate(67,305.5) rotate(-90)" x="0" y="0" text-anchor="middle" font-family='"Liberation Mono", monospace' font-size="30" font-style="normal">]</text>
<text transform="translate(1054,465.5) rotate(-90)" x="0" y="0" text-anchor="middle" font-family='"Liberation Mono", monospace' font-size="30" font-style="normal">I</text>
<text transform="translate(1054,449.5) rotate(-90)" x="0" y="0" text-anchor="middle" font-family='"Liberation Mono", monospace' font-size="30" font-style="normal">o</text>
<text transform="translate(1054,432.5) rotate(-90)" x="0" y="0" text-anchor="middle" font-family='"Liberation Mono", monospace' font-size="30" font-style="normal">n</text>
<text transform="translate(1054,400) rotate(-90)" x="0" y="0" text-anchor="middle" font-family='"Liberation Mono", monospace' font-size="30" font-style="normal">d</text>
<text transform="translate(1054,382.5) rotate(-90)" x="0" y="0" text-anchor="middle" font-family='"Liberation Mono", monospace' font-size="30" font-style="normal">e</text>
<text transform="translate(1054,365.5) rotate(-90)" x="0" y="0" text-anchor="middle" font-family='"Liberation Mono", monospace' font-size="30" font-style="normal">n</text>
<text transform="translate(1054,349.5) rotate(-90)" x="0" y="0" text-anchor="middle" font-family='"Liberation Mono", monospace' font-size="30" font-style="normal">s</text>
<text transform="translate(1054,332.5) rotate(-90)" x="0" y="0" text-anchor="middle" font-family='"Liberation Mono", monospace' font-size="30" font-style="normal">i</text>
<text transform="translate(1054,316) rotate(-90)" x="0" y="0" text-anchor="middle" font-family='"Liberation Mono", monospace' font-size="30" font-style="normal">t</text>
<text transform="translate(1054,298.5) rotate(-90)" x="0" y="0" text-anchor="middle" font-family='"Liberation Mono", monospace' font-size="30" font-style="normal">y</text>
<text transform="translate(1054,282) rotate(-90)" x="0" y="0" text-anchor="middle" font-family='"Liberation Mono", monospace' font-size="30" font-style="normal">[</text>
<text transform="translate(1054,265.5) rotate(-90)" x="0" y="0" text-anchor="middle" font-family='"Liberation Sans", sans-serif' font-size="28" font-style="italic">n</text>
<text transform="translate(1058,250.5) rotate(-90)" x="0" y="0" text-anchor="middle" font-family='"Liberation Sans", sans-serif' font-size="19.5" font-style="italic">c</text>
<text transform="translate(1054,237.5) rotate(-90)" x="0" y="0" text-anchor="middle" font-family='"Liberation Mono", monospace' font-size="30" font-style="normal">]</text>
<text transform="translate(1058,415.5) rotate(-90)" x="0" y="0" text-anchor="middle" font-family='"Liberation Mono", monospace' font-size="30" font-style="normal">_</text>
</svg>
</body></html>
